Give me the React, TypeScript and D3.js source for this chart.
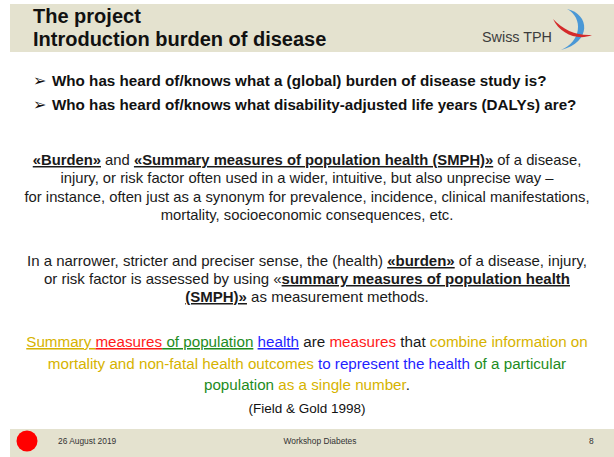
import { useMemo } from 'react';
import * as d3 from 'd3';

const W = 614;
const H = 457;
const FONT = '"Liberation Sans", Arial, sans-serif';
const CX = 307;

const TITLE_LINES = ['The project', 'Introduction burden of disease'];

const QUESTIONS = [
  'Who has heard of/knows what a (global) burden of disease study is?',
  'Who has heard of/knows what disability-adjusted life years (DALYs) are?',
];

// each line is a list of segments: [text, bold+underline]
const PARA_ONE = [
  [['«Burden»', true], [' and ', false], ['«Summary measures of population health (SMPH)»', true], [' of a disease,', false]],
  [['injury, or risk factor often used in a wider, intuitive, but also unprecise way –', false]],
  [['for instance, often just as a synonym for prevalence, incidence, clinical manifestations,', false]],
  [['mortality, socioeconomic consequences, etc.', false]],
];

const PARA_TWO = [
  [['In a narrower, stricter and preciser sense, the (health) ', false], ['«burden»', true], [' of a disease, injury,', false]],
  [['or risk factor is assessed by using «', false], ['summary measures of population health', true]],
  [['(SMPH)»', true], [' as measurement methods.', false]],
];

const COLORS = {
  gold: '#d6b300',
  red: '#ff1a1a',
  green: '#1e8c1e',
  blue: '#1f1fff',
  black: '#1a1a1a',
};

// [text, colour key, underlined]
const DEFINITION = [
  [['Summary ', 'gold', true], ['measures', 'red', true], [' of population', 'green', true], [' ', 'black', false], ['health', 'blue', true], [' are ', 'black', false], ['measures', 'red', false], [' that ', 'black', false], ['combine information on', 'gold', false]],
  [['mortality and non-fatal health outcomes', 'gold', false], [' to represent the health', 'blue', false], [' of a particular', 'green', false]],
  [['population', 'green', false], [' as a single number', 'gold', false], ['.', 'black', false]],
];

const CITATION = '(Field & Gold 1998)';

const FOOTER = { date: '26 August 2019', event: 'Workshop Diabetes', page: '8' };

const App = () => {
  const questionY = useMemo(() => d3.scaleLinear().domain([0, 1]).range([86, 110]), []);
  const paraOneY = useMemo(() => d3.scaleLinear().domain([0, 3]).range([165, 220]), []);
  const paraTwoY = useMemo(() => d3.scaleLinear().domain([0, 2]).range([266, 302]), []);
  const defY = useMemo(() => d3.scaleLinear().domain([0, 2]).range([347, 390]), []);

  const underlined = { textDecoration: 'underline' };

  return (
    <svg width={W} height={H} style={{ position: 'absolute', left: 0, top: 0, background: '#fff' }} fontFamily={FONT}>
      {/* header band */}
      <rect x={10} y={4} width={W - 10} height={48} fill="#e4e2cf" />
      {TITLE_LINES.map((t, i) => (
        <text key={t} x={33} y={23 + i * 23} fontSize={20} fontWeight="bold" fill="#111">
          {t}
        </text>
      ))}
      {/* logo */}
      <text x={482} y={42} fontSize={15} fill="#3c3c3c" textLength={70} lengthAdjust="spacingAndGlyphs">
        Swiss TPH
      </text>
      <path d="M567 9 C590 14, 592 42, 561 50 C581 42, 584 18, 567 9 Z" fill="#4a98d6" />
      <path d="M553 19 C560 34, 578 41, 592 35 C577 36, 563 30, 553 19 Z" fill="#d42a2a" />

      {/* questions */}
      {QUESTIONS.map((q, i) => (
        <g key={q}>
          <text x={33} y={questionY(i)} fontSize={16} fill="#111" fontFamily='"DejaVu Sans", sans-serif'>
            ➢
          </text>
          <text x={52} y={questionY(i)} fontSize={15.2} fontWeight="bold" fill="#111">
            {q}
          </text>
        </g>
      ))}

      {/* paragraph one */}
      {PARA_ONE.map((line, i) => (
        <text key={`p1-${i}`} x={CX} y={paraOneY(i)} fontSize={14.8} textAnchor="middle" fill="#1a1a1a">
          {line.map(([t, b], j) => (
            <tspan key={j} fontWeight={b ? 'bold' : 'normal'} style={b ? underlined : undefined}>
              {t}
            </tspan>
          ))}
        </text>
      ))}

      {/* paragraph two */}
      {PARA_TWO.map((line, i) => (
        <text key={`p2-${i}`} x={CX} y={paraTwoY(i)} fontSize={15} textAnchor="middle" fill="#1a1a1a">
          {line.map(([t, b], j) => (
            <tspan key={j} fontWeight={b ? 'bold' : 'normal'} style={b ? underlined : undefined}>
              {t}
            </tspan>
          ))}
        </text>
      ))}

      {/* coloured definition */}
      {DEFINITION.map((line, i) => (
        <text key={`d-${i}`} x={CX} y={defY(i)} fontSize={15.2} textAnchor="middle">
          {line.map(([t, c, u], j) => (
            <tspan key={j} fill={COLORS[c as keyof typeof COLORS]} style={u ? underlined : undefined}>
              {t}
            </tspan>
          ))}
        </text>
      ))}
      <text x={CX} y={413} fontSize={13.5} textAnchor="middle" fill="#111">
        {CITATION}
      </text>

      {/* footer band */}
      <rect x={10} y={429} width={W - 10} height={H - 429} fill="#e4e2cf" />
      <circle cx={27} cy={441} r={10.5} fill="#ff0000" />
      <text x={58} y={444} fontSize={8.4} fill="#333">
        {FOOTER.date}
      </text>
      <text x={320} y={444} fontSize={8.4} fill="#333" textAnchor="middle">
        {FOOTER.event}
      </text>
      <text x={589} y={444} fontSize={8.4} fill="#333">
        {FOOTER.page}
      </text>
    </svg>
  );
};

export default App;
